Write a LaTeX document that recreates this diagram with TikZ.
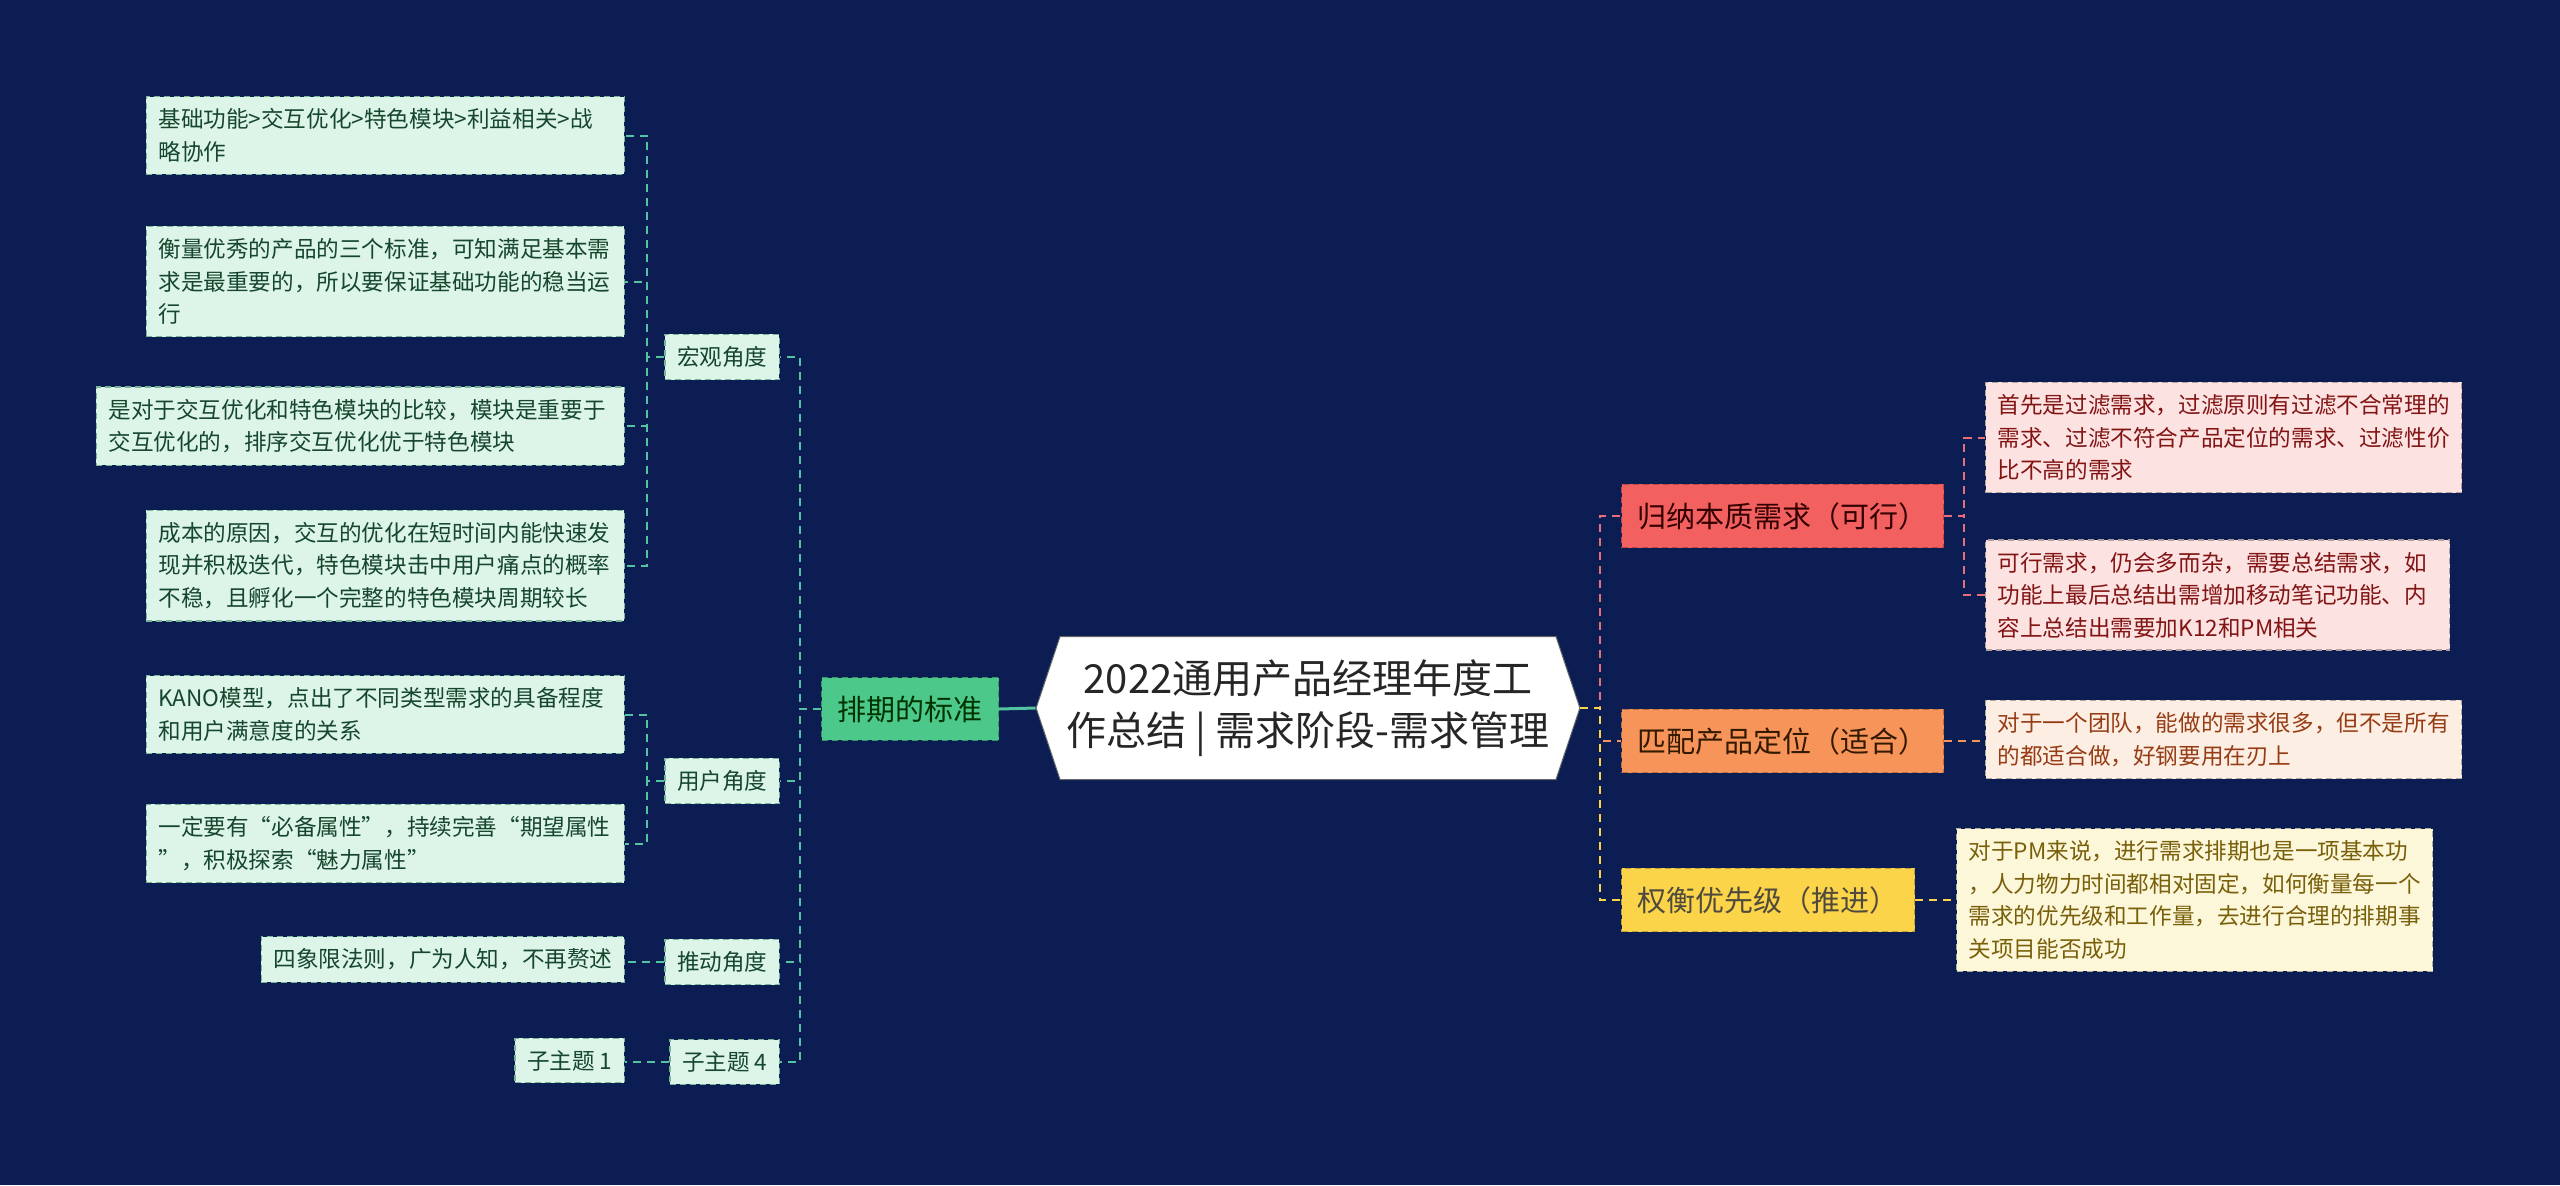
\documentclass[tikz,border=0pt]{standalone}
\usepackage{fontspec}
\setmainfont{Noto Sans CJK SC}
\usepackage{tikz}
\usetikzlibrary{positioning,shapes.symbols}
\usepackage{xcolor}
\definecolor{bgnavy}{RGB}{12,29,84}
\definecolor{mintfill}{RGB}{220,245,232}
\definecolor{mintline}{RGB}{120,180,150}
\definecolor{mintink}{RGB}{22,70,45}
\definecolor{greenfill}{RGB}{76,200,138}
\definecolor{tealline}{RGB}{84,196,160}
\definecolor{redfill}{RGB}{242,96,96}
\definecolor{redline}{RGB}{232,110,120}
\definecolor{pinkfill}{RGB}{253,226,226}
\definecolor{redink}{RGB}{130,20,20}
\definecolor{orfill}{RGB}{247,148,90}
\definecolor{peachfill}{RGB}{253,238,228}
\definecolor{orink}{RGB}{150,60,20}
\definecolor{yefill}{RGB}{252,212,74}
\definecolor{creamfill}{RGB}{253,247,218}
\definecolor{yeink}{RGB}{120,95,10}

\begin{document}
\begin{tikzpicture}[x=0.5pt,y=-0.5pt,
  box/.style={draw=#1,dashed,dash pattern=on 3pt off 2pt,line width=0.6pt,align=left,inner xsep=6pt,inner ysep=6pt,font=\fontsize{11.3}{16.3}\selectfont},
  mint/.style={box=mintline,fill=mintfill,text=mintink},
  leaf/.style={mint,text width=227pt},
  topic/.style={draw=#1!75!black,dashed,dash pattern=on 3pt off 2pt,line width=0.6pt,fill=#1,inner xsep=8pt,inner ysep=9pt,font=\fontsize{14.5}{18}\selectfont},
  note/.style={box=#1!70!black,fill=#1,text width=226pt},
  tline/.style={tealline,line width=1pt,dash pattern=on 4pt off 3pt}]
\fill[bgnavy] (0,0) rectangle (2560,1185);
\useasboundingbox (0,0) rectangle (2560,1185);

\coordinate (b1) at (800,0);
\coordinate (b2) at (647,0);
\coordinate (b3) at (1600,0);
\coordinate (b4) at (1964,0);

\node (title) [shape=signal,signal to=east and west,signal pointer angle=143,fill=white,draw=black!60,line width=0.5pt,
  minimum width=268pt,minimum height=71.5pt,align=center,text=black!85,font=\fontsize{20}{26}\selectfont] at (1308,708)
  {2022通用产品经理年度工\\作总结 | 需求阶段-需求管理};

% left side
\node (pq) [topic=greenfill,text=black!80!green] at (910,709) {排期的标准};
\node (hg) [mint,anchor=east] at (780,357) {宏观角度};
\node (yh) [mint,anchor=east] at (780,781) {用户角度};
\node (td) [mint,anchor=east] at (780,962) {推动角度};
\node (z4) [mint,anchor=east] at (780,1062) {子主题 4};

\node (l1) [leaf,anchor=east] at (625,135.5) {基础功能>交互优化>特色模块>利益相关>战\\略协作};
\node (l2) [leaf,anchor=east] at (625,281.5) {衡量优秀的产品的三个标准，可知满足基本需\\求是最重要的，所以要保证基础功能的稳当运\\行};
\node (l3) [mint,text width=252pt,anchor=east] at (625,426) {是对于交互优化和特色模块的比较，模块是重要于\\交互优化的，排序交互优化优于特色模块};
\node (l4) [leaf,anchor=east] at (625,565.5) {成本的原因，交互的优化在短时间内能快速发\\现并积极迭代，特色模块击中用户痛点的概率\\不稳，且孵化一个完整的特色模块周期较长};
\node (l5) [leaf,anchor=east] at (625,714.5) {KANO模型，点出了不同类型需求的具备程度\\和用户满意度的关系};
\node (l6) [leaf,anchor=east] at (625,843.5) {一定要有“必备属性”，持续完善“期望属性\\”，积极探索“魅力属性”};
\node (l7) [mint,anchor=east] at (625,959.5) {四象限法则，广为人知，不再赘述};
\node (l8) [mint,anchor=east] at (625,1060.5) {子主题 1};

% right side
\node (gn) [topic=redfill,anchor=west,text=black!80!red] at (1621,516) {归纳本质需求（可行）};
\node (pp) [topic=orfill,anchor=west,text=black!80!orange] at (1621,741) {匹配产品定位（适合）};
\node (qh) [topic=yefill,anchor=west,text=black!80!yellow] at (1621,900) {权衡优先级（推进）};

\node (r1) [note=pinkfill,text=redink,anchor=west] at (1985,437.5) {首先是过滤需求，过滤原则有过滤不合常理的\\需求、过滤不符合产品定位的需求、过滤性价\\比不高的需求};
\node (r2) [note=pinkfill,text=redink,text width=220pt,anchor=west] at (1985,595) {可行需求，仍会多而杂，需要总结需求，如\\功能上最后总结出需增加移动笔记功能、内\\容上总结出需要加K12和PM相关};
\node (r3) [note=peachfill,text=orink,anchor=west] at (1985,739.5) {对于一个团队，能做的需求很多，但不是所有\\的都适合做，好钢要用在刃上};
\node (r4) [note=creamfill,text=yeink,anchor=west] at (1956,900) {对于PM来说，进行需求排期也是一项基本功\\，人力物力时间都相对固定，如何衡量每一个\\需求的优先级和工作量，去进行合理的排期事\\关项目能否成功};

\draw[tealline,line width=1.5pt] (title.west) -- (pq.east);
\foreach \n in {hg,yh,td,z4}
  \draw[tline] (pq.west) -- (pq.west -| b1) |- (\n.east);
\foreach \n in {l1,l2,l3,l4}
  \draw[tline] (hg.west) -- (hg.west -| b2) |- (\n.east);
\foreach \n in {l5,l6}
  \draw[tline] (yh.west) -- (yh.west -| b2) |- (\n.east);
\draw[tline] (td.west) -- (td.west -| l7.east);
\draw[tline] (z4.west) -- (z4.west -| l8.east);

\foreach \n/\c in {gn/redline,pp/orfill,qh/yefill}
  \draw[\c,line width=1pt,dash pattern=on 4pt off 3pt] (title.east) -- (title.east -| b3) |- (\n.west);
\foreach \n in {r1,r2}
  \draw[redline,line width=1pt,dash pattern=on 4pt off 3pt] (gn.east) -- (gn.east -| b4) |- (\n.west);
\draw[orfill,line width=1pt,dash pattern=on 4pt off 3pt] (pp.east) -- (pp.east -| r3.west);
\draw[yefill,line width=1pt,dash pattern=on 4pt off 3pt] (qh.east) -- (qh.east -| r4.west);
\end{tikzpicture}
\end{document}
